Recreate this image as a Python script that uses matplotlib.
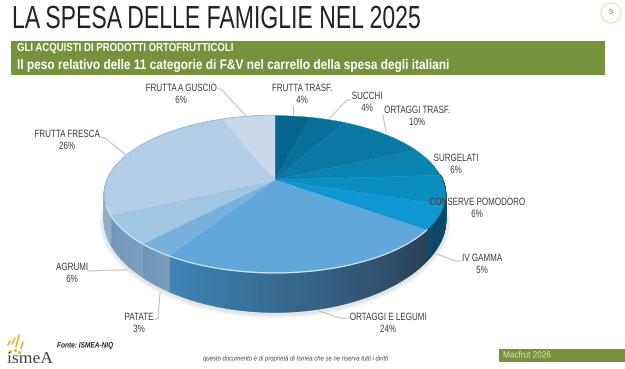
import numpy as np
import matplotlib
matplotlib.use("Agg")
import matplotlib.pyplot as plt
import matplotlib.patheffects as pe
from matplotlib.colors import to_rgb
from matplotlib.patches import Circle, Rectangle
from matplotlib.transforms import Affine2D, Transform

plt.rcParams['font.family'] = ['Liberation Sans', 'DejaVu Sans']

categories = ["FRUTTA TRASF.", "SUCCHI", "ORTAGGI TRASF.", "SURGELATI", "CONSERVE POMODORO", "IV GAMMA",
              "ORTAGGI E LEGUMI", "PATATE", "AGRUMI", "FRUTTA FRESCA", "FRUTTA A GUSCIO"]
shares = [4, 4, 10, 6, 6, 5, 24, 3, 6, 26, 6]
slice_colors = ["#05658c", "#086f98", "#0a78a4", "#0b83b1", "#0b8dc0", "#0e97d0",
                "#5fa8d9", "#78b1db", "#a2c5e1", "#b3cee6", "#c7d9eb"]
# side colour of each slice, right end / left end
side_right = ["#0a4a68"] * 5 + ["#0a4763", "#2a3f54", "#7d9fbd", "#7d9fbd", "#8fb0cc", "#8fb0cc"]
side_left = ["#0a5678"] * 5 + ["#0c4a68", "#3f85b6", "#6d95b6", "#6f97b8", "#8fb0cc", "#8fb0cc"]

# label centres in pixels, name line / percent line
label_x = [302, 367, 417, 456, 477, 482, 388, 139, 72, 67, 181]
label_y = [88, 96, 110, 158, 202, 258, 317, 317, 267, 134, 88]
leaders = [
    [(293, 106), (293, 115)],
    [(351, 100), (347, 100), (330, 118)],
    [(383, 115), (386, 132)],
    [],
    [],
    [(461, 261), (455, 261), (437, 254)],
    [(349, 318), (340, 318), (319, 311)],
    [(153, 319), (158, 319), (160, 293)],
    [(88, 271), (117, 270), (127, 270)],
    [(100, 137), (105, 138), (126, 155)],
    [(218, 88), (222, 90), (246, 116)],
]


class Perspective(Transform):
    # unit circle of the pie -> tilted disc in pixels
    input_dims = 2
    output_dims = 2

    def transform_non_affine(self, values):
        values = np.asarray(values)
        w = 1 + 0.182 * values[:, 1]
        return np.column_stack([275 + 167.6 * values[:, 0] / w, 180 - 76 * values[:, 1] / w])


class Squeeze(pe.AbstractPathEffect):
    def __init__(self, sx):
        self.sx = sx

    def draw_path(self, renderer, gc, tpath, affine, rgbFace=None):
        renderer.draw_path(gc, tpath, Affine2D().scale(self.sx, 1) + affine, rgbFace)


def rim(theta):
    u, v = np.sin(theta), np.cos(theta)
    pts = Perspective().transform_non_affine(np.column_stack([u, v]))
    depth = 26 + 13 * v ** 2 * (v < 0)
    return pts[:, 0], pts[:, 1], pts[:, 1] + depth


def put(ax, renderer, s, x, y, size, width=None, sx=0.8, center=False, **kw):
    # condensed text: measure, then narrow it around the left end
    t = ax.text(x, y, s, fontsize=size, ha='left', va='center', **kw)
    w = t.get_window_extent(renderer).width
    if width:
        sx = width / w
    if center:
        t.set_x(x - w * sx / 2)
    t.set_path_effects([Squeeze(sx)])
    return t


fig = plt.figure(figsize=(6.25, 3.69), dpi=100)
ax = fig.add_axes([0, 0, 1, 1])
wedges, _ = ax.pie(shares, colors=slice_colors, startangle=90, counterclock=False)
ax.set_aspect('auto')
ax.set_xlim(0, 625)
ax.set_ylim(369, 0)
ax.set_axis_off()
renderer = fig.canvas.get_renderer()

persp = Perspective()
for w, c in zip(wedges, slice_colors):
    w.set_transform(persp + ax.transData)
    w.set_edgecolor(c)
    w.set_linewidth(0.3)
    w.set_zorder(5)

cum = np.concatenate([[0], np.cumsum(shares)]) / np.sum(shares) * 2 * np.pi

# soft shadow under the base
th = np.linspace(cum[4], cum[9] + 0.4, 150)
x, _, y2 = rim(th)
for lw in [7, 5, 3]:
    ax.plot(x, y2 + 1.5, color="#999999", alpha=0.09, lw=lw, zorder=1, solid_capstyle='round')

# side of the disc, in narrow strips for the gradient
for i in range(4, len(shares)):
    th = np.linspace(cum[i], cum[i + 1], shares[i] * 5 + 2)
    x, y1, y2 = rim(th)
    c_r, c_l = np.array(to_rgb(side_right[i])), np.array(to_rgb(side_left[i]))
    for j in range(len(th) - 1):
        t = j / max(len(th) - 2, 1)
        col = c_r + (c_l - c_r) * t
        ax.fill([x[j], x[j + 1], x[j + 1], x[j]], [y1[j], y1[j + 1], y2[j + 1], y2[j]],
                color=col, lw=1.2, joinstyle='round', zorder=2)

# light rim along the front edge
th = np.linspace(cum[6], cum[9] + 0.12, 120)
x, y1, _ = rim(th)
ax.plot(x, y1, color="#cfe8f8", lw=0.9, zorder=6)

# labels
for name, share, lx, ly, seg in zip(categories, shares, label_x, label_y, leaders):
    put(ax, renderer, name, lx, ly, 7.6, sx=0.76, center=True, color="#3a3a3a", zorder=8)
    put(ax, renderer, f"{share}%", lx, ly + 12, 7.6, sx=0.76, center=True, color="#3a3a3a", zorder=8)
    if seg:
        ax.plot(*zip(*seg), color="#bbbbbb", lw=0.7, zorder=4)

# slide furniture
put(ax, renderer, "LA SPESA DELLE FAMIGLIE NEL 2025", 12, 20, 23, width=410, color="#222222")
ax.add_patch(Circle((611, 13), 10, fc="white", ec="#eee6cf", lw=1.2))
ax.text(611, 13, "9", fontsize=5, color="#777777", ha='center', va='center')
ax.add_patch(Rectangle((11, 41), 594, 34, fc="#76923c", ec="none"))
put(ax, renderer, "GLI ACQUISTI DI PRODOTTI ORTOFRUTTICOLI", 17, 48, 8.4, width=216, color="white", fontweight='bold')
put(ax, renderer, "Il peso relativo delle 11 categorie di F&V nel carrello della spesa degli italiani", 17, 65, 10,
    width=433, color="white", fontweight='bold')

put(ax, renderer, "Fonte: ISMEA-NIQ", 57, 346, 5.6, width=56, color="#222222", fontstyle='italic', fontweight='bold')
put(ax, renderer, "questo documento è di proprietà di Ismea che se ne riserva tutti i diritti", 203, 359, 5,
    width=187, color="#444444", fontstyle='italic')
ax.add_patch(Rectangle((499, 349), 126, 13, fc="#76923c", ec="none"))
put(ax, renderer, "Macfrut 2026", 503, 355, 6.5, width=48, color="#dfe8c8")

# logo
for (x0, y0, x1, y1_) in [(8, 345, 10, 341), (12, 344, 15, 338), (16, 347, 19, 335), (21, 349, 23, 342)]:
    ax.plot([x0, x1], [y0, y1_], color="#e6b040", lw=1.2, solid_capstyle='round')
ax.plot([10, 15, 19], [351, 350, 352], ls='none', marker='o', ms=1.2, color="#e6b040")
put(ax, renderer, "ismeA", 7, 359, 12, width=46, family="Liberation Serif", color="#444444")

fig.savefig("out.png", dpi=100)
